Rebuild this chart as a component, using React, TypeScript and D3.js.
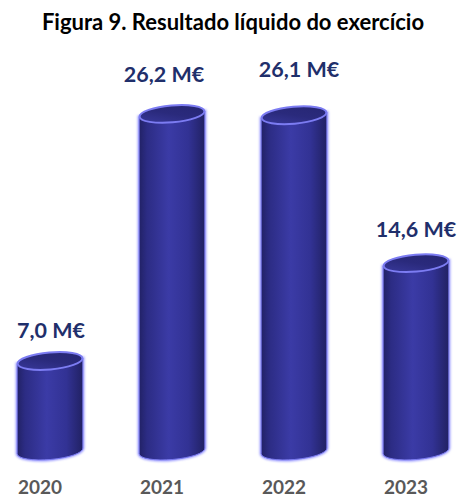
import React from "react";
import * as d3 from "d3";

const years = ["2020", "2021", "2022", "2023"];
const values = [7.0, 26.2, 26.1, 14.6];
const valueLabels = ["7,0 M€", "26,2 M€", "26,1 M€", "14,6 M€"];
const title = "Figura 9. Resultado líquido do exercício";

// layout nudges for the value labels (as placed in the original)
const labelShiftX = [1, -8, 5, 0];
const labelShiftY = [-23, -32, -38, -26];

const W = 458;
const H = 497;

export default function App() {
  const x = d3.scalePoint<string>().domain(years).range([50, 416]);
  const y = d3.scaleLinear().domain([0, 30]).range([451, 65]);
  const rx = 33;
  const ry = 8.5;
  const tilt = -5;
  const rad = (tilt * Math.PI) / 180;
  const dx = rx * Math.cos(rad);
  const dy = rx * Math.sin(rad);
  const base = y(0);

  return (
    <svg width={W} height={H} style={{ position: "absolute", left: 0, top: 0 }}>
      <defs>
        <linearGradient id="body" x1="0" x2="1" y1="0" y2="0">
          <stop offset="0%" stopColor="#222266" />
          <stop offset="12%" stopColor="#2c2c84" />
          <stop offset="45%" stopColor="#3b3ba6" />
          <stop offset="75%" stopColor="#323294" />
          <stop offset="100%" stopColor="#212163" />
        </linearGradient>
        <linearGradient id="top" x1="0" x2="1" y1="1" y2="0">
          <stop offset="0%" stopColor="#3a3a9e" />
          <stop offset="50%" stopColor="#2a2a7c" />
          <stop offset="100%" stopColor="#262672" />
        </linearGradient>
        <filter id="glow" x="-20%" y="-20%" width="140%" height="140%">
          <feGaussianBlur stdDeviation="0.8" />
        </filter>
      </defs>
      <rect width={W} height={H} fill="#ffffff" />
      <text
        x={233}
        y={30}
        textAnchor="middle"
        fontFamily="Lato, 'Open Sans', sans-serif"
        fontWeight="bold"
        fontSize={22}
        fill="#000000"
      >
        {title}
      </text>
      {years.map((yr, i) => {
        const cx = x(yr)!;
        const ty = y(values[i]);
        const body = `M${cx - dx},${ty - dy} L${cx - dx},${base - dy} A${rx},${ry} ${tilt} 0 0 ${cx + dx},${base + dy} L${cx + dx},${ty + dy} Z`;
        return (
          <g key={yr}>
            <path d={body} fill="none" stroke="#9a9aff" strokeWidth={3} filter="url(#glow)" />
            <path d={body} fill="url(#body)" stroke="#7a7af0" strokeWidth={1} />
            <ellipse
              cx={cx}
              cy={ty}
              rx={rx - 0.5}
              ry={ry}
              transform={`rotate(${tilt} ${cx} ${ty})`}
              fill="url(#top)"
              stroke="#7c7cf2"
              strokeWidth={2}
            />
            <text
              x={cx + labelShiftX[i]}
              y={ty + labelShiftY[i]}
              textAnchor="middle"
              fontFamily="Lato, 'Open Sans', sans-serif"
              fontWeight="bold"
              fontSize={21.5}
              fill="#1f2f6b"
            >
              {valueLabels[i]}
            </text>
            <text
              x={cx - 10}
              y={494}
              textAnchor="middle"
              fontFamily="Lato, 'Open Sans', sans-serif"
              fontWeight="bold"
              fontSize={19}
              fill="#595959"
            >
              {yr}
            </text>
          </g>
        );
      })}
    </svg>
  );
}
